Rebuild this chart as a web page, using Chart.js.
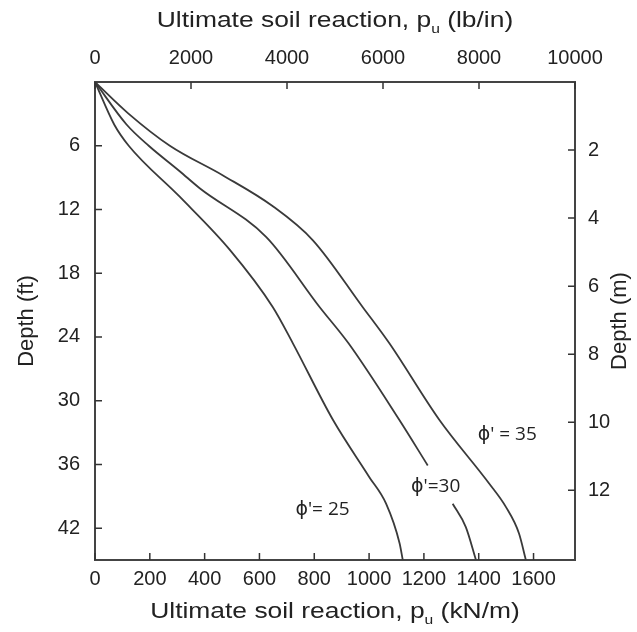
<!DOCTYPE html>
<html>
<head>
<meta charset="utf-8">
<script src="https://cdn.jsdelivr.net/npm/chart.js@4"></script>
<style>
  body { margin: 0; background: #fff; }
</style>
</head>
<body>
<canvas id="soilChart" width="637" height="632"></canvas>
<script>
// ultimate soil reaction (kN/m) against depth (ft)
const reaction35 = [0, 121, 273, 467, 649, 795, 977, 1074, 1256, 1438, 1499, 1547, 1572];
const depth35    = [0, 2.95, 6.0, 8.8, 11.7, 14.9, 21.2, 24.6, 31.8, 37.8, 40.0, 42.5, 45];

// phi'=30 line is broken where its label sits (null = gap)
const reaction30 = [0, 115, 196, 309, 382, 625, 820, 925, 1110, 1214, null, 1305, 1353, 1390];
const depth30    = [0, 4.0, 6.0, 8.4, 10.0, 14.6, 21.2, 24.6, 31.8, 36.1, null, 39.7, 41.9, 45];

const reaction25 = [0, 70, 123, 309, 492, 649, 722, 868, 1001, 1062, 1111, 1123];
const depth25    = [0, 4.0, 6.0, 10.8, 15.8, 21.2, 24.6, 31.8, 37.2, 39.7, 43.4, 45];

const curveNames = ["ϕ' = 35", "ϕ'=30", "ϕ'= 25"];

const kNTicks   = [0, 200, 400, 600, 800, 1000, 1200, 1400, 1600];
const lbTicks   = [0, 2000, 4000, 6000, 8000, 10000];
const ftTicks   = [6, 12, 18, 24, 30, 36, 42];
const mTicks    = [2, 4, 6, 8, 10, 12];

const KN_MAX = 1751.27;   // = 10000 lb/in
const FT_MAX = 45;
const M_MAX  = 14.05;

function pts(xs, ys) {
    return xs.map((v, i) => (v === null ? { x: null, y: null } : { x: v, y: ys[i] }));
}

const lineColor = '#3a3a3a';
const fontFamily = "'Liberation Sans', Arial, sans-serif";

// titles with subscript u, drawn by hand
const titlePlugin = {
    id: 'titles',
    afterDraw(chart) {
        const ctx = chart.ctx;
        const a = chart.chartArea;
        const cx = (a.left + a.right) / 2;
        const cy = (a.top + a.bottom) / 2;
        drawTitle(ctx, [['Ultimate soil reaction, p'], ['u', true], [' (lb/in)']], cx, 21, 0, 1.2);
        drawTitle(ctx, [['Ultimate soil reaction, p'], ['u', true], [' (kN/m)']], cx, 612, 0, 1.2);
        drawTitle(ctx, [['Depth (ft)']], 27, cy, -Math.PI / 2, 1);
        drawTitle(ctx, [['Depth (m)']], 620, cy, -Math.PI / 2, 1);

        // curve labels
        const xs = chart.scales.x, ys = chart.scales.y;
        const anchors = [[1504, 33.2], [1243, 38.1], [830, 40.3]];
        ctx.save();
        ctx.font = "19px 'Open Sans', 'DejaVu Sans', sans-serif";
        ctx.fillStyle = '#222';
        ctx.textAlign = 'center';
        ctx.textBaseline = 'middle';
        curveNames.forEach((t, i) => {
            ctx.fillText(t, xs.getPixelForValue(anchors[i][0]), ys.getPixelForValue(anchors[i][1]));
        });
        ctx.restore();
    }
};

function drawTitle(ctx, parts, x, y, angle, stretch) {
    ctx.save();
    ctx.translate(x, y);
    ctx.rotate(angle);
    ctx.scale(stretch, 1);
    ctx.fillStyle = '#222';
    ctx.textBaseline = 'middle';
    ctx.textAlign = 'left';
    const big = '22px ' + fontFamily, small = '13px ' + fontFamily;
    let total = 0;
    parts.forEach(p => { ctx.font = p[1] ? small : big; total += ctx.measureText(p[0]).width; });
    let px = -total / 2;
    parts.forEach(p => {
        ctx.font = p[1] ? small : big;
        ctx.fillText(p[0], px, p[1] ? 8 : 0);
        px += ctx.measureText(p[0]).width;
    });
    ctx.restore();
}

// tick marks pointing into the plot
const innerTicks = {
    id: 'innerTicks',
    afterDraw(chart) {
        const { ctx, chartArea: a, scales } = chart;
        const len = 7;
        ctx.save();
        ctx.strokeStyle = '#333';
        ctx.lineWidth = 1.5;
        ctx.beginPath();
        scales.x.ticks.forEach(t => {
            const p = scales.x.getPixelForValue(t.value);
            ctx.moveTo(p, a.bottom); ctx.lineTo(p, a.bottom - len);
        });
        scales.xTop.ticks.forEach(t => {
            const p = scales.xTop.getPixelForValue(t.value);
            ctx.moveTo(p, a.top); ctx.lineTo(p, a.top + len);
        });
        scales.y.ticks.forEach(t => {
            const p = scales.y.getPixelForValue(t.value);
            ctx.moveTo(a.left, p); ctx.lineTo(a.left + len, p);
        });
        scales.yRight.ticks.forEach(t => {
            const p = scales.yRight.getPixelForValue(t.value);
            ctx.moveTo(a.right, p); ctx.lineTo(a.right - len, p);
        });
        ctx.stroke();
        ctx.restore();
    }
};

function keepTicks(list) {
    return scale => { scale.ticks = list.map(v => ({ value: v })); };
}

const plain = v => String(v);
const tickFont = { family: fontFamily, size: 20 };
const axisBorder = { display: true, color: '#444', width: 2 };
const noGrid = { display: true, drawOnChartArea: false, drawTicks: false };

const soilChart = new Chart(document.getElementById('soilChart'), {
    type: 'scatter',
    data: {
        datasets: [
            { label: curveNames[0], data: pts(reaction35, depth35) },
            { label: curveNames[1], data: pts(reaction30, depth30) },
            { label: curveNames[2], data: pts(reaction25, depth25) }
        ].map(d => Object.assign(d, {
            showLine: true,
            spanGaps: false,
            borderColor: lineColor,
            borderWidth: 1.8,
            pointRadius: 0,
            cubicInterpolationMode: 'monotone',
            xAxisID: 'x',
            yAxisID: 'y'
        }))
    },
    options: {
        responsive: false,
        animation: false,
        layout: { padding: 0 },
        plugins: {
            legend: { display: false },
            tooltip: { enabled: false }
        },
        scales: {
            x: {
                type: 'linear', position: 'bottom',
                min: 0, max: KN_MAX,
                afterBuildTicks: keepTicks(kNTicks),
                afterFit: s => { s.height = 632 - 560; },
                ticks: { font: tickFont, color: '#222', padding: 7, maxRotation: 0, callback: plain },
                grid: noGrid, border: axisBorder
            },
            xTop: {
                type: 'linear', position: 'top',
                min: 0, max: 10000,
                afterBuildTicks: keepTicks(lbTicks),
                afterFit: s => { s.height = 82; },
                ticks: { font: tickFont, color: '#222', padding: 12, maxRotation: 0, callback: plain },
                grid: noGrid, border: axisBorder
            },
            y: {
                type: 'linear', position: 'left', reverse: true,
                min: 0, max: FT_MAX,
                afterBuildTicks: keepTicks(ftTicks),
                afterFit: s => { s.width = 95; },
                ticks: { font: tickFont, color: '#222', padding: 15, callback: plain },
                grid: noGrid, border: axisBorder
            },
            yRight: {
                type: 'linear', position: 'right', reverse: true,
                min: 0, max: M_MAX,
                afterBuildTicks: keepTicks(mTicks),
                afterFit: s => { s.width = 637 - 575; },
                ticks: { font: tickFont, color: '#222', padding: 13, callback: plain },
                grid: noGrid, border: axisBorder
            }
        }
    },
    plugins: [titlePlugin, innerTicks]
});
</script>
</body>
</html>
